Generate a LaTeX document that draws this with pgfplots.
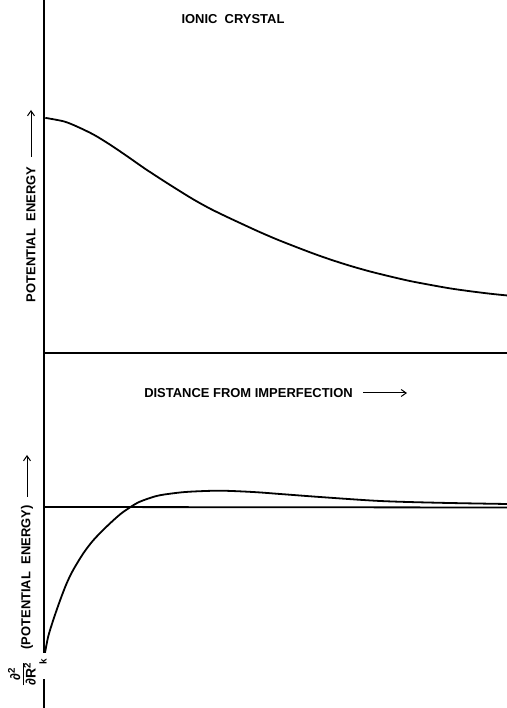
\documentclass[border=0pt]{standalone}
\usepackage{pgfplots}
\pgfplotsset{compat=1.18}
\usepackage{fontspec}
\setmainfont{Liberation Sans}
\usetikzlibrary{arrows.meta}
\begin{document}
\begin{tikzpicture}[x=1bp,y=1bp]
\path[use as bounding box] (0,0) rectangle (507,708);
\pgfplotsset{every axis/.append style={scale only axis, width=463bp, xmin=0, xmax=10,
  ticks=none, clip=false, axis line style={-, line width=1.8bp, black}}}
% upper panel: potential energy
\begin{axis}[at={(44bp,355bp)}, anchor=south west, height=353bp, ymin=0, ymax=10,
  axis x line*=bottom, axis y line*=left]
\addplot[smooth, line width=1.8bp, black] coordinates {
(0.03,6.66) (0.43,6.56) (0.72,6.41) (1.08,6.18) (1.44,5.89) (1.80,5.57)
(2.16,5.24) (2.52,4.93) (2.88,4.63) (3.24,4.34) (3.60,4.08) (3.96,3.85)
(4.32,3.63) (4.67,3.42) (5.10,3.18) (5.75,2.85) (6.18,2.65) (6.61,2.47)
(7.04,2.31) (7.47,2.17) (7.90,2.04) (8.34,1.93) (8.77,1.83) (9.20,1.75)
(9.63,1.68) (10,1.63)};
\end{axis}
% lower panel: second derivative
\begin{axis}[at={(44bp,0bp)}, anchor=south west, height=355bp, ymin=-20.1, ymax=15.4,
  axis x line=none, axis y line*=left]
\addplot[line width=1.8bp, black] coordinates {(0,0) (10,-0.05)};
\addplot[smooth, line width=1.8bp, black] coordinates {
(0.02,-14.63) (0.09,-12.97) (0.20,-11.3) (0.35,-9.3) (0.49,-7.63) (0.63,-6.3)
(0.85,-4.63) (1.07,-3.3) (1.35,-1.97) (1.64,-0.75) (1.86,-0.03) (2.07,0.53)
(2.43,1.1) (2.79,1.37) (3.15,1.53) (3.80,1.63) (4.51,1.5) (5.10,1.3)
(5.96,1.0) (7.26,0.6) (8.55,0.42) (10,0.3)};
\end{axis}
% texts
\begin{scope}[every node/.style={font=\bfseries\fontsize{13}{15}\selectfont, inner sep=0pt}]
\node at (233,689) {IONIC\ \ CRYSTAL};
\node at (248.5,315) {DISTANCE\ FROM\ IMPERFECTION};
\node[rotate=90] at (31,473.5) {POTENTIAL\ \ ENERGY};
\node[rotate=90] at (27,130.5) {(POTENTIAL\ \ ENERGY)};
\node[rotate=90, font=\bfseries\fontsize{14}{15}\selectfont] at (24,34)
  {\setlength{\tabcolsep}{0pt}\renewcommand{\arraystretch}{0.95}\begin{tabular}{c}∂\textsuperscript{2}\\[-1pt]\hline\rule{0pt}{11pt}∂R\textsuperscript{2}\end{tabular}};
\node[rotate=90, fill=white, minimum width=26bp, minimum height=6bp, inner sep=0pt] at (42.5,41.5) {};
\node[rotate=90, font=\bfseries\fontsize{10}{11}\selectfont] at (43,46) {k};
\end{scope}
\draw[line width=1bp, -{Straight Barb[length=5bp,width=7bp]}] (363,315) -- (407,315);
\draw[line width=1bp, -{Straight Barb[length=5bp,width=7bp]}] (31,551) -- (31,598);
\draw[line width=1bp, -{Straight Barb[length=5bp,width=7bp]}] (27,211) -- (27,253);
\end{tikzpicture}
\end{document}
